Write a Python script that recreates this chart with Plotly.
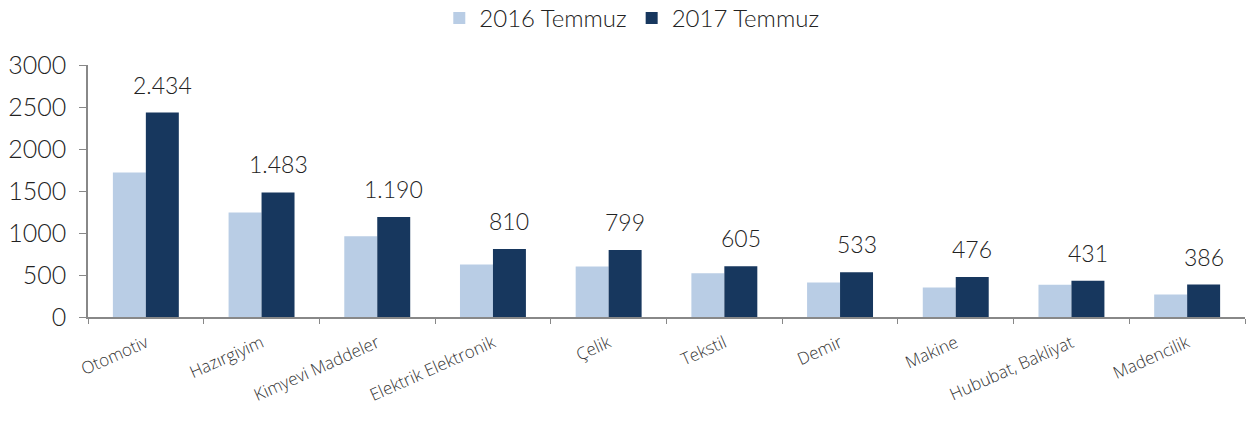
import plotly.graph_objects as go

categories = ["Otomotiv", "Hazırgiyim", "Kimyevi Maddeler", "Elektrik Elektronik", "Çelik",
              "Tekstil", "Demir", "Makine", "Hububat, Bakliyat", "Madencilik"]
values_2016 = [1720, 1245, 960, 625, 600, 520, 410, 350, 385, 268]
values_2017 = [2434, 1483, 1190, 810, 799, 605, 533, 476, 431, 386]
y_ticks = [0, 500, 1000, 1500, 2000, 2500, 3000]

c2016 = "#B9CDE5"
c2017 = "#17375E"
num_font = "Lato"

fig = go.Figure()
fig.add_trace(go.Bar(x=categories, y=values_2016, name="2016 Temmuz", marker_color=c2016,
                     marker_line_width=0))
fig.add_trace(go.Bar(x=categories, y=values_2017, name="2017 Temmuz", marker_color=c2017,
                     marker_line_width=0))

for c, v in zip(categories, values_2017):
    fig.add_annotation(x=c, y=v, text=f"{v:,}".replace(",", "."), showarrow=False,
                       xshift=16.5, yshift=12, yanchor="bottom",
                       font=dict(family=num_font, size=23, color="#222", weight=300))

fig.update_layout(
    width=1250, height=421,
    margin=dict(l=88, r=5, t=65, b=104, autoexpand=False),
    plot_bgcolor="white", paper_bgcolor="white",
    barmode="group", bargap=0.43, bargroupgap=0,
    showlegend=True,
    legend=dict(orientation="h", x=0.47, xanchor="center", y=1.185, yref="paper",
                yanchor="middle",
                font=dict(family=num_font, size=24, color="#222", weight=300), itemwidth=30,
                traceorder="normal"),
    xaxis=dict(type="category", tickson="boundaries", ticks="outside", ticklen=5,
               tickcolor="#888", showline=True, linecolor="#888", linewidth=1.5,
               tickangle=-24, ticklabelstandoff=8,
               tickfont=dict(family="Open Sans", size=17, color="#333", weight=300),
               showgrid=False, automargin=False),
    yaxis=dict(range=[0, 3000], tickvals=y_ticks, ticks="outside", ticklen=7,
               tickcolor="#888", showline=True, linecolor="#888", linewidth=1.5,
               showgrid=False, zeroline=False, automargin=False, ticklabelstandoff=8,
               tickfont=dict(family=num_font, size=25, color="#222", weight=300)),
)

fig.write_html("out.html", config={"displayModeBar": False},
               post_script="document.body.style.margin='0';document.body.style.overflow='hidden';")
